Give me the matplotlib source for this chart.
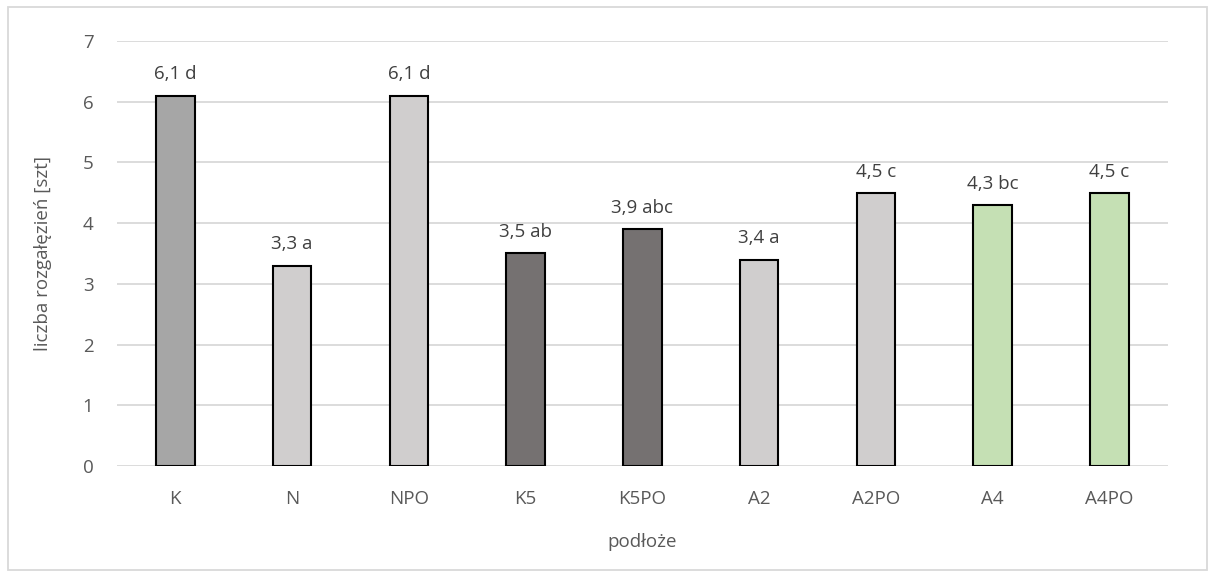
import matplotlib
matplotlib.use("Agg")
import matplotlib.pyplot as plt
from matplotlib.patches import Rectangle

categories = ["K", "N", "NPO", "K5", "K5PO", "A2", "A2PO", "A4", "A4PO"]
values = [6.1, 3.3, 6.1, 3.5, 3.9, 3.4, 4.5, 4.3, 4.5]
labels = ["6,1 d", "3,3 a", "6,1 d", "3,5 ab", "3,9 abc", "3,4 a", "4,5 c", "4,3 bc", "4,5 c"]
colors = ["#A6A6A6", "#D0CECE", "#D0CECE", "#757171", "#757171",
          "#D0CECE", "#D0CECE", "#C5E0B4", "#C5E0B4"]

plt.rcParams['font.family'] = ['Open Sans', 'DejaVu Sans']
txt = "#595959"

fig = plt.figure(figsize=(12.15, 5.77), dpi=100)
ax = fig.add_axes([0.0963, 0.1924, 0.8647, 0.7366])

x = range(len(categories))
ax.bar(x, values, width=0.33, color=colors, edgecolor="black", linewidth=1.5, zorder=3)
for i, (v, lab) in enumerate(zip(values, labels)):
    ax.text(i, v + 0.2, lab, ha="center", va="bottom", fontsize=13.5, color="#404040")

ax.set_xlim(-0.5, len(categories) - 0.5)
ax.set_ylim(0, 7)
ax.set_yticks(range(0, 8))
ax.set_xticks(list(x))
ax.set_xticklabels(categories)
ax.grid(axis="y", color="#D9D9D9", linewidth=1.3, zorder=0)
for s in ax.spines.values():
    s.set_visible(False)
ax.tick_params(length=0, labelsize=13.5, colors=txt)
ax.tick_params(axis="y", pad=17)
ax.tick_params(axis="x", pad=17)
ax.set_xlabel("podłoże", fontsize=13.5, color=txt, labelpad=18)
ax.set_ylabel("liczba rozgałęzień [szt]", fontsize=13.5, color=txt, labelpad=22)

fig.patches.append(Rectangle((8 / 1215, 7 / 577), 1199 / 1215, 563 / 577,
                             transform=fig.transFigure, fill=False,
                             edgecolor="#D9D9D9", linewidth=1.3))

fig.savefig("out.png", dpi=100)
